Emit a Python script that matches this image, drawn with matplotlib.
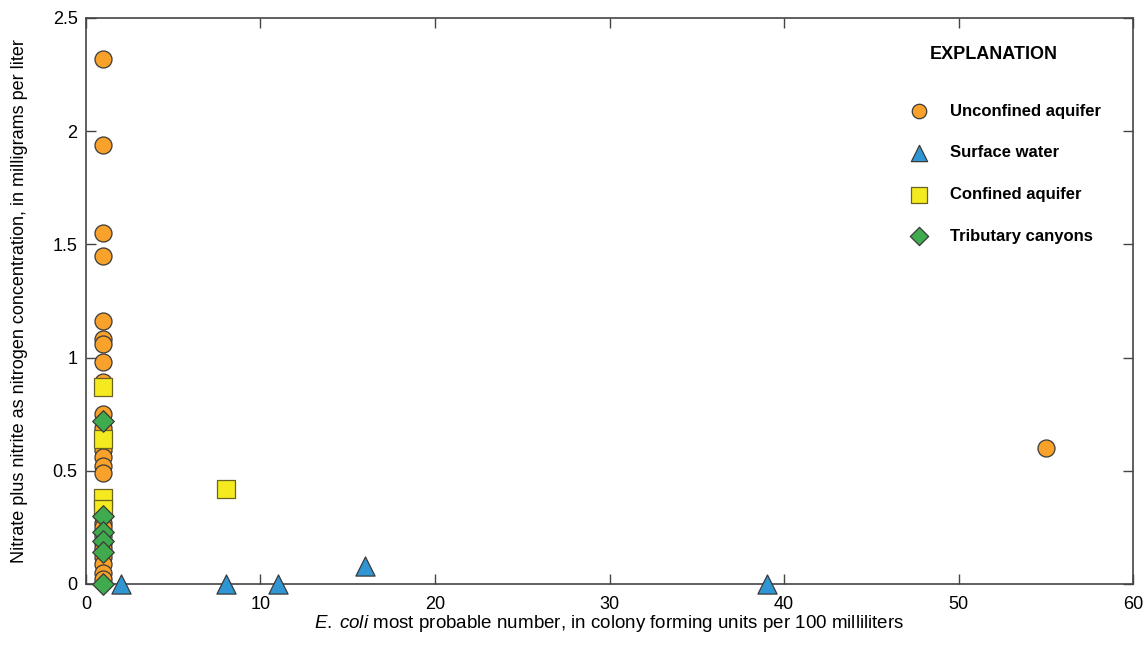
import matplotlib.pyplot as plt

# data
unconf_x = [1] * 25 + [55]
unconf_y = [2.32, 1.94, 1.55, 1.45, 1.16, 1.08, 1.06, 0.98, 0.89, 0.75, 0.69, 0.62,
            0.59, 0.56, 0.52, 0.49, 0.27, 0.25, 0.21, 0.18, 0.16, 0.12, 0.09, 0.05, 0.02, 0.60]
surf_x = [2, 8, 11, 16, 39]
surf_y = [0.0, 0.0, 0.0, 0.08, 0.0]
conf_x = [1, 1, 1, 1, 8]
conf_y = [0.87, 0.64, 0.38, 0.33, 0.42]
trib_x = [1, 1, 1, 1, 1, 1]
trib_y = [0.72, 0.30, 0.23, 0.19, 0.14, 0.0]

fam = 'Liberation Sans'
plt.rcParams['font.family'] = [fam, 'DejaVu Sans']
plt.rcParams['mathtext.fontset'] = 'custom'
plt.rcParams['mathtext.rm'] = 'Liberation Sans'
plt.rcParams['mathtext.it'] = 'Liberation Sans:italic'

fig = plt.figure(figsize=(11.43, 6.64), dpi=100)
ax = fig.add_axes([0.0752, 0.1205, 0.9161, 0.8524])

edge = '#3a3a3a'
h1 = ax.scatter(unconf_x, unconf_y, s=150, marker='o', color='#F8A12B', edgecolor=edge, linewidth=0.9, zorder=3, clip_on=False)
h2 = ax.scatter(surf_x, surf_y, s=190, marker='^', color='#2F96D3', edgecolor=edge, linewidth=0.9, zorder=4, clip_on=False)
h3 = ax.scatter(conf_x, conf_y, s=170, marker='s', color='#F4EA1F', edgecolor='#6b6420', linewidth=0.9, zorder=5, clip_on=False)
h4 = ax.scatter(trib_x, trib_y, s=120, marker='D', color='#3FAA4E', edgecolor=edge, linewidth=0.9, zorder=6, clip_on=False)

ax.set_xlim(0, 60)
ax.set_ylim(0, 2.5)
ax.set_xticks(range(0, 61, 10))
ax.set_yticks([0, 0.5, 1, 1.5, 2, 2.5])
ax.set_yticklabels(['0', '0.5', '1', '1.5', '2', '2.5'])
ax.tick_params(direction='in', top=True, right=True, length=7, width=1, color='#444444',
               labelsize=13, pad=6)
ax.tick_params(axis='x', pad=9)
for sp in ax.spines.values():
    sp.set_color('#444444')
    sp.set_linewidth(1.2)

ax.set_ylabel('Nitrate plus nitrite as nitrogen concentration, in milligrams per liter',
              fontsize=13, labelpad=18)
ax.set_xlabel(r'$\it{E.\;coli}$ most probable number, in colony forming units per 100 milliliters',
              fontsize=13.5, labelpad=0)

leg = ax.legend([h1, h2, h3, h4],
                ['Unconfined aquifer', 'Surface water', 'Confined aquifer', 'Tributary canyons'],
                loc='upper left', bbox_to_anchor=(0.765, 0.875), frameon=False,
                labelspacing=1.6, handletextpad=0.9, markerscale=0.85,
                prop={'family': fam, 'weight': 'bold', 'size': 12})
ax.text(0.867, 0.935, 'EXPLANATION', transform=ax.transAxes, ha='center', va='center',
        fontsize=13, fontweight='bold')

fig.savefig('out.png', dpi=100)
